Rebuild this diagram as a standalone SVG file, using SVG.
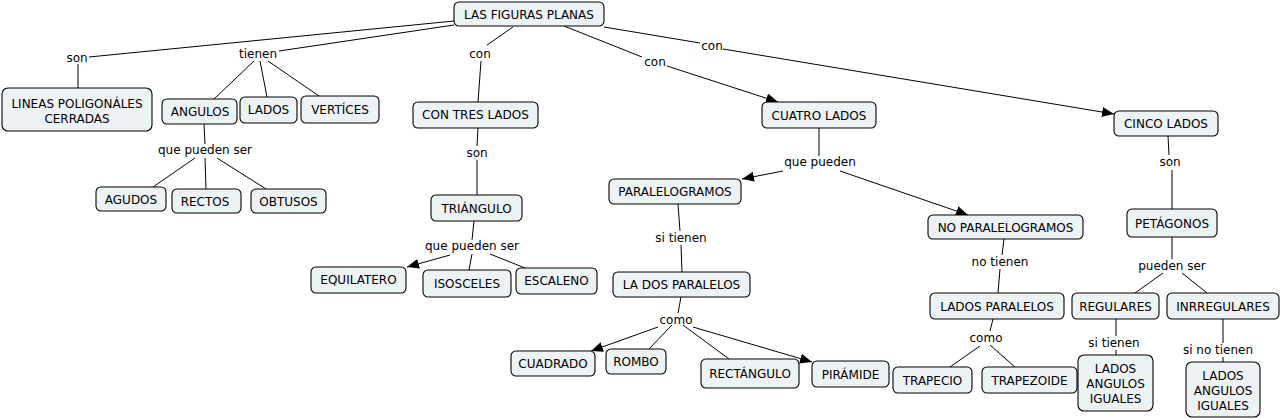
<svg xmlns="http://www.w3.org/2000/svg" width="1282" height="419" viewBox="0 0 1282 419">
<style>
.n rect{fill:#edf3f5;stroke:#000;stroke-width:1.1}
text{font-family:"DejaVu Sans",Verdana,sans-serif;font-size:12px;fill:#000;text-anchor:middle}
.c line{stroke:#000;stroke-width:1}
.c line.a{marker-end:url(#ah)}
</style>
<defs>
<marker id="ah" viewBox="0 0 12 10" refX="12" refY="5" markerWidth="12" markerHeight="10" markerUnits="userSpaceOnUse" orient="auto">
<path d="M0,0 L12,5 L0,10 z" fill="#000"/>
</marker>
</defs>
<rect width="1282" height="419" fill="#fff"/>
<g class="c" id="connectors">
<line x1="454" y1="21" x2="89" y2="57"/>
<line x1="454" y1="25" x2="279" y2="51"/>
<line x1="78" y1="64" x2="78" y2="88"/>
<line x1="254" y1="61" x2="214" y2="99"/>
<line x1="260" y1="61" x2="267" y2="97"/>
<line x1="268" y1="61" x2="319" y2="96"/>
<line x1="204" y1="124" x2="205" y2="144"/>
<line x1="195" y1="158" x2="153" y2="187"/>
<line x1="205" y1="158" x2="206" y2="189"/>
<line x1="217" y1="158" x2="266" y2="189"/>
<line x1="513" y1="27" x2="487" y2="45"/>
<line x1="481" y1="61" x2="478" y2="102"/>
<line x1="478" y1="128" x2="477" y2="146"/>
<line x1="477" y1="160" x2="477" y2="195"/>
<line x1="474" y1="221" x2="472" y2="240"/>
<line class="a" x1="450" y1="255" x2="407" y2="267"/>
<line x1="472" y1="254" x2="469" y2="270"/>
<line x1="490" y1="254" x2="525" y2="268"/>
<line x1="564" y1="26" x2="642" y2="57"/>
<line class="a" x1="667" y1="66" x2="778" y2="102"/>
<line x1="604" y1="27" x2="700" y2="43"/>
<line class="a" x1="723" y1="49" x2="1114" y2="114"/>
<line x1="819" y1="128" x2="819" y2="156"/>
<line class="a" x1="783" y1="171" x2="742" y2="179"/>
<line class="a" x1="840" y1="171" x2="968" y2="215"/>
<line x1="678" y1="204" x2="680" y2="231"/>
<line x1="681" y1="245" x2="682" y2="272"/>
<line x1="681" y1="297" x2="678" y2="313"/>
<line class="a" x1="658" y1="327" x2="591" y2="351"/>
<line x1="672" y1="325" x2="649" y2="349"/>
<line x1="683" y1="325" x2="729" y2="359"/>
<line class="a" x1="693" y1="327" x2="812" y2="362"/>
<line x1="1168" y1="136" x2="1169" y2="155"/>
<line x1="1172" y1="170" x2="1172" y2="209"/>
<line x1="1004" y1="239" x2="1002" y2="255"/>
<line x1="1000" y1="269" x2="998" y2="293"/>
<line x1="993" y1="319" x2="990" y2="331"/>
<line x1="980" y1="346" x2="950" y2="367"/>
<line x1="990" y1="345" x2="1015" y2="367"/>
<line x1="1172" y1="237" x2="1172" y2="259"/>
<line x1="1163" y1="273" x2="1135" y2="293"/>
<line x1="1182" y1="273" x2="1207" y2="293"/>
<line x1="1116" y1="319" x2="1116" y2="336"/>
<line x1="1116" y1="350" x2="1116" y2="355"/>
<line x1="1223" y1="319" x2="1223" y2="343"/>
<line x1="1223" y1="357" x2="1223" y2="362"/>
</g>
<g id="link-labels">
<text x="77" y="62">son</text>
<text x="258" y="58">tienen</text>
<text x="480" y="58">con</text>
<text x="655" y="66">con</text>
<text x="712" y="50">con</text>
<text x="205" y="154">que pueden ser</text>
<text x="477" y="157">son</text>
<text x="472" y="250">que pueden ser</text>
<text x="820" y="166">que pueden</text>
<text x="681" y="242">si tienen</text>
<text x="676" y="324">como</text>
<text x="1170" y="166">son</text>
<text x="1000" y="266">no tienen</text>
<text x="986" y="342">como</text>
<text x="1172" y="270">pueden ser</text>
<text x="1114" y="347">si tienen</text>
<text x="1218" y="354">si no tienen</text>
</g>
<g class="n" id="n-figuras"><rect x="454" y="2" width="150" height="24" rx="5"/><text x="529" y="18.5">LAS FIGURAS PLANAS</text></g>
<g class="n" id="n-lineas"><rect x="2" y="88" width="150" height="43" rx="6"/><text x="77" y="107.5">LINEAS POLIGONÁLES</text><text x="77" y="122.5">CERRADAS</text></g>
<g class="n" id="n-angulos"><rect x="162" y="99" width="75" height="25" rx="5"/><text x="200" y="116">ANGULOS</text></g>
<g class="n" id="n-lados"><rect x="240" y="97" width="57" height="26" rx="5"/><text x="268.5" y="114">LADOS</text></g>
<g class="n" id="n-vertices"><rect x="301" y="96" width="78" height="27" rx="5"/><text x="340" y="114">VERTÍCES</text></g>
<g class="n" id="n-agudos"><rect x="96" y="187" width="70" height="24" rx="5"/><text x="131" y="203.5">AGUDOS</text></g>
<g class="n" id="n-rectos"><rect x="172" y="189" width="69" height="24" rx="5"/><text x="205" y="205.5">RECTOS</text></g>
<g class="n" id="n-obtusos"><rect x="251" y="189" width="75" height="24" rx="5"/><text x="288.5" y="205.5">OBTUSOS</text></g>
<g class="n" id="n-tres"><rect x="413" y="102" width="125" height="26" rx="5"/><text x="475.5" y="119">CON TRES LADOS</text></g>
<g class="n" id="n-triangulo"><rect x="431" y="195" width="91" height="26" rx="5"/><text x="476.5" y="212.5">TRIÁNGULO</text></g>
<g class="n" id="n-equilatero"><rect x="311" y="267" width="95" height="26" rx="5"/><text x="358.5" y="284">EQUILATERO</text></g>
<g class="n" id="n-isosceles"><rect x="423" y="270" width="88" height="27" rx="5"/><text x="467" y="287.5">ISOSCELES</text></g>
<g class="n" id="n-escaleno"><rect x="516" y="268" width="81" height="26" rx="5"/><text x="556.5" y="285">ESCALENO</text></g>
<g class="n" id="n-cuatro"><rect x="762" y="102" width="114" height="26" rx="5"/><text x="819" y="119.5">CUATRO LADOS</text></g>
<g class="n" id="n-paralelogramos"><rect x="609" y="179" width="132" height="25" rx="5"/><text x="675" y="196">PARALELOGRAMOS</text></g>
<g class="n" id="n-ladosdos"><rect x="613" y="272" width="137" height="25" rx="5"/><text x="681.5" y="289">LA DOS PARALELOS</text></g>
<g class="n" id="n-cuadrado"><rect x="511" y="351" width="84" height="25" rx="5"/><text x="553" y="368">CUADRADO</text></g>
<g class="n" id="n-rombo"><rect x="606" y="349" width="60" height="25" rx="5"/><text x="636" y="366">ROMBO</text></g>
<g class="n" id="n-rectangulo"><rect x="701" y="359" width="98" height="29" rx="5"/><text x="750" y="378">RECTÁNGULO</text></g>
<g class="n" id="n-piramide"><rect x="812" y="361" width="77" height="26" rx="5"/><text x="850.5" y="378.5">PIRÁMIDE</text></g>
<g class="n" id="n-noparalelogramos"><rect x="928" y="215" width="155" height="24" rx="5"/><text x="1005.5" y="231.5">NO PARALELOGRAMOS</text></g>
<g class="n" id="n-ladosparalelos"><rect x="930" y="293" width="134" height="26" rx="5"/><text x="997" y="310.5">LADOS PARALELOS</text></g>
<g class="n" id="n-trapecio"><rect x="893" y="367" width="79" height="26" rx="5"/><text x="932.5" y="384.5">TRAPECIO</text></g>
<g class="n" id="n-trapezoide"><rect x="982" y="367" width="95" height="26" rx="5"/><text x="1029.5" y="384.5">TRAPEZOIDE</text></g>
<g class="n" id="n-cinco"><rect x="1114" y="111" width="104" height="25" rx="5"/><text x="1166" y="128">CINCO LADOS</text></g>
<g class="n" id="n-petagonos"><rect x="1127" y="209" width="90" height="28" rx="5"/><text x="1172" y="227.5">PETÁGONOS</text></g>
<g class="n" id="n-regulares"><rect x="1072" y="293" width="87" height="26" rx="5"/><text x="1115.5" y="310.5">REGULARES</text></g>
<g class="n" id="n-inrregulares"><rect x="1167" y="293" width="112" height="26" rx="5"/><text x="1223" y="310.5">INRREGULARES</text></g>
<g class="n" id="n-iguales1"><rect x="1078" y="355" width="75" height="56" rx="6"/><text x="1115.5" y="372.5">LADOS</text><text x="1115.5" y="387.5">ANGULOS</text><text x="1115.5" y="402.5">IGUALES</text></g>
<g class="n" id="n-iguales2"><rect x="1186" y="362" width="74" height="55" rx="6"/><text x="1223" y="379.5">LADOS</text><text x="1223" y="394.5">ANGULOS</text><text x="1223" y="409.5">IGUALES</text></g>
</svg>
